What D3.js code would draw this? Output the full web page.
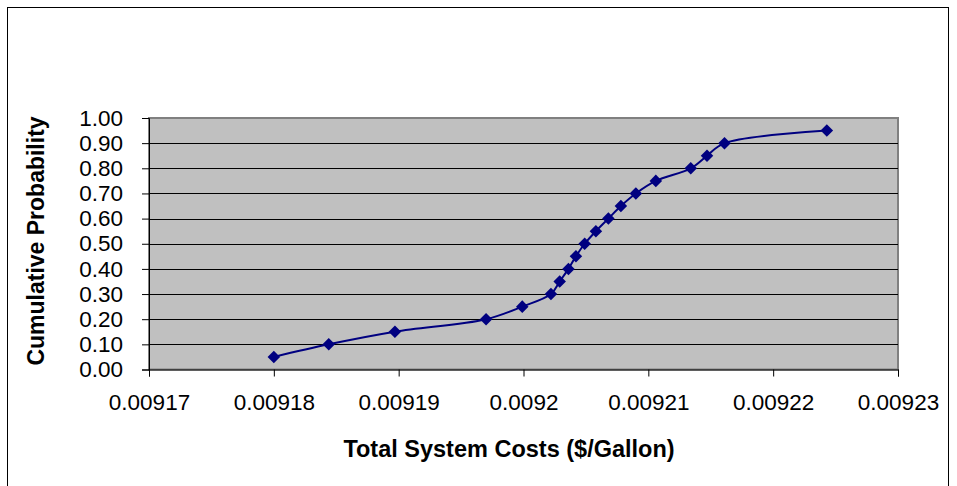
<!DOCTYPE html>
<html><head><meta charset="utf-8">
<script src="https://cdn.jsdelivr.net/npm/d3@7"></script>
<style>body{margin:0;background:#fff}svg{display:block}text{font-family:Arial,"Liberation Sans",sans-serif}</style>
</head><body><svg id="c" width="957" height="486"></svg>
<script>
const costs = [0.0091800, 0.0091844, 0.0091897, 0.0091970, 0.0091999, 0.0092022, 0.0092029, 0.0092036, 0.0092042, 0.0092049, 0.0092058, 0.0092068, 0.0092078, 0.0092090, 0.0092106, 0.0092134, 0.0092147, 0.0092161, 0.0092243];
const probs = [0.05, 0.10, 0.15, 0.20, 0.25, 0.30, 0.35, 0.40, 0.45, 0.50, 0.55, 0.60, 0.65, 0.70, 0.75, 0.80, 0.85, 0.90, 0.95];
const xTicks = [0.00917, 0.00918, 0.00919, 0.0092, 0.00921, 0.00922, 0.00923];
const xTickLabels = ["0.00917", "0.00918", "0.00919", "0.0092", "0.00921", "0.00922", "0.00923"];
const yTicks = [0, 0.1, 0.2, 0.3, 0.4, 0.5, 0.6, 0.7, 0.8, 0.9, 1.0];
const xTitle = "Total System Costs ($/Gallon)";
const yTitle = "Cumulative Probability";

const svg = d3.select("#c");
const L = 149, R = 898, T = 118, B = 369.5;
const FS = 22.5;
const x = d3.scaleLinear().domain([0.00917, 0.00923]).range([L, R]);
const y = d3.scaleLinear().domain([0, 1]).range([B, T]);

// outer border
svg.append("rect").attr("x", 7.5).attr("y", 7.5).attr("width", 941).attr("height", 500)
  .attr("fill", "#fff").attr("stroke", "#000").attr("stroke-width", 1);

// plot area
svg.append("rect").attr("x", L).attr("y", T).attr("width", R - L).attr("height", B - T)
  .attr("fill", "#C0C0C0").attr("stroke", "#808080").attr("stroke-width", 2);

// gridlines
svg.append("g").selectAll("line").data(yTicks.slice(1, -1)).join("line")
  .attr("x1", L).attr("x2", R)
  .attr("y1", d => Math.round(y(d)) + 0.5).attr("y2", d => Math.round(y(d)) + 0.5)
  .attr("stroke", "#000").attr("stroke-width", 1);

// y axis
const yAxis = svg.append("g").attr("transform", `translate(${L},0)`)
  .call(d3.axisLeft(y).tickValues(yTicks).tickFormat(d3.format(".2f")).tickSizeOuter(0).tickSize(7).tickPadding(19));
yAxis.select(".domain").attr("stroke", "#000");
yAxis.selectAll("text").attr("font-size", FS).attr("fill", "#000");

// x axis
const xAxis = svg.append("g").attr("transform", `translate(0,${B})`)
  .call(d3.axisBottom(x).tickValues(xTicks).tickFormat((d, i) => xTickLabels[i]).tickSizeOuter(0).tickSize(7).tickPadding(18));
xAxis.select(".domain").attr("stroke", "#000");
xAxis.selectAll("text").attr("font-size", FS).attr("fill", "#000");

// line
const pts = costs.map((c, i) => [c, probs[i]]);
svg.append("path").datum(pts)
  .attr("d", d3.line().x(d => x(d[0])).y(d => y(d[1])).curve(d3.curveCatmullRom.alpha(0.5)))
  .attr("fill", "none").attr("stroke", "#000080").attr("stroke-width", 2);

// markers
svg.append("g").selectAll("path").data(pts).join("path")
  .attr("d", d3.symbol().type(d3.symbolDiamond2).size(100))
  .attr("transform", d => `translate(${x(d[0])},${y(d[1])})`)
  .attr("fill", "#000080");

// titles
svg.append("text").attr("x", 509).attr("y", 457).attr("text-anchor", "middle")
  .attr("font-size", 23.5).attr("font-weight", "bold").text(xTitle);
svg.append("text").attr("transform", `translate(44,241) rotate(-90)`)
  .attr("text-anchor", "middle").attr("font-size", 23).attr("font-weight", "bold").text(yTitle);
</script></body></html>
